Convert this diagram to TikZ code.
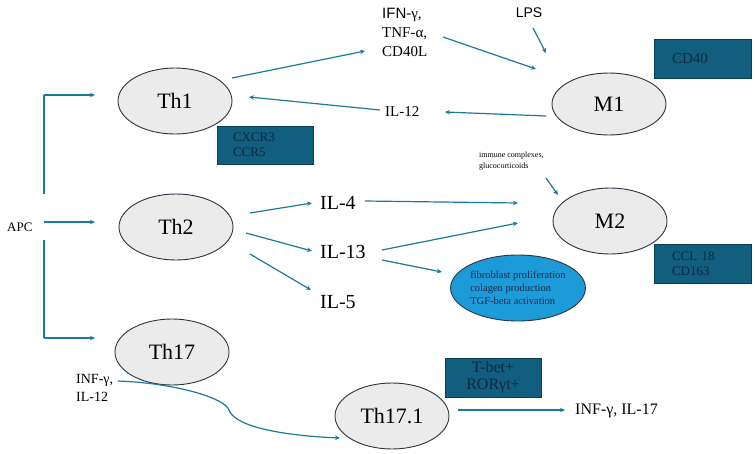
\documentclass[tikz,border=0pt]{standalone}
\usepackage{fontspec}
\setmainfont{Liberation Serif}
\newfontfamily\arialf{Liberation Sans}
\usetikzlibrary{arrows.meta,shapes.geometric}
\definecolor{arr}{HTML}{1B7A9A}
\definecolor{boxfill}{HTML}{125E7F}
\definecolor{boxline}{HTML}{0B3D55}
\definecolor{boxtext}{HTML}{0A2A40}
\definecolor{cellfill}{HTML}{EBEBEB}
\definecolor{cellline}{HTML}{2A3442}
\definecolor{fibfill}{HTML}{1C9BD8}
\definecolor{fibtext}{HTML}{1A2A50}
\tikzset{
  cell/.style={ellipse, draw=cellline, line width=0.9pt, fill=cellfill, minimum width=114pt, minimum height=66pt, inner sep=0pt, font=\fontsize{22}{24}\selectfont},
  marker/.style={draw=boxline, line width=0.9pt, fill=boxfill, text=boxtext, inner sep=0pt},
  conn/.style={draw=arr, line width=1.2pt, -{Stealth[length=5pt,width=4.5pt]}},
  plain/.style={draw=arr, line width=1.2pt},
  lbl/.style={inner sep=0pt, align=left}
}
\begin{document}
\begin{tikzpicture}[x=1pt,y=-1pt]
\useasboundingbox (0,0) rectangle (755,453);
% cells
\node[cell] (th1) at (175,101) {Th1};
\node[cell] (th2) at (176,227) {Th2};
\node[cell] (th17) at (172,352) {Th17};
\node[cell] (th171) at (392,416) {Th17.1};
\node[cell, minimum height=62pt] (m1) at (609,104) {M1};
\node[cell] (m2) at (610,221) {M2};
\node[ellipse, draw=cellline, line width=0.9pt, fill=fibfill, text=fibtext, minimum width=130pt, minimum height=66pt, inner sep=0pt, align=left, font=\fontsize{10.5}{13}\selectfont] (fib) at (518,288) {fibroblast proliferation\\colagen production\\TGF-beta activation};
% marker boxes
\node[marker, minimum width=96pt, minimum height=38pt, align=left, font=\fontsize{13}{14.5}\selectfont, text width=64pt] (cx) at (265,145) {CXCR3\\CCR5};
\node[marker, minimum width=97pt, minimum height=39pt, align=left, font=\fontsize{15}{17}\selectfont, text width=61pt] (cd40) at (702.5,58.5) {CD40};
\node[marker, minimum width=97pt, minimum height=39pt, align=left, font=\fontsize{13}{14.5}\selectfont, text width=61pt] (ccl) at (702.5,263.5) {CCL 18\\CD163};
\node[marker, minimum width=96pt, minimum height=39pt, align=center, font=\fontsize{16}{17}\selectfont] (tbet) at (493,377.5) {T-bet+\\RORγt+};
% labels
\node[lbl, anchor=west, font=\fontsize{13}{14}\selectfont] (apc) at (7,227) {APC};
\node[lbl, anchor=north west, font=\fontsize{15}{19}\selectfont] (ifn) at (382,8) {{\arialf IFN-}γ,\\TNF-α,\\CD40L};
\node[lbl, anchor=center, font=\arialf\fontsize{14}{16}\selectfont] (lps) at (529,13) {LPS};
\node[lbl, anchor=west, font=\fontsize{15}{16}\selectfont] (il12) at (385,112) {IL-12};
\node[lbl, anchor=north west, font=\fontsize{8}{10.5}\selectfont] (imm) at (479,152) {immune complexes,\\glucocorticoids};
\node[lbl, anchor=west, font=\fontsize{20}{22}\selectfont] (il4) at (320,203) {IL-4};
\node[lbl, anchor=west, font=\fontsize{20}{22}\selectfont] (il13) at (320,252) {IL-13};
\node[lbl, anchor=west, font=\fontsize{20}{22}\selectfont] (il5) at (320,302) {IL-5};
\node[lbl, anchor=north west, font=\fontsize{14}{18}\selectfont] (infl) at (76,374) {INF-γ,\\IL-12};
\node[lbl, anchor=west, font=\fontsize{16}{18}\selectfont] (infr) at (575,411) {INF-γ, IL-17};
% coordinates for connector ends
\coordinate (apcR) at (44,222);
\coordinate (vTop) at (44,194);
\coordinate (cTop) at (44,95);
\coordinate (vBot) at (44,240);
\coordinate (cBot) at (44,338);
\coordinate (th1in) at (95,95);
\coordinate (th2in) at (95,222);
\coordinate (th17in) at (95,338);
\coordinate (th1out) at (232,78);
\coordinate (ifnin) at (365,51);
\coordinate (ifnout) at (443,37);
\coordinate (m1inA) at (536,69);
\coordinate (lpsout) at (533,28);
\coordinate (m1inB) at (546,53);
\coordinate (m1out) at (546,116);
\coordinate (il12in) at (445,112);
\coordinate (il12out) at (380,110);
\coordinate (th1in2) at (249,97);
\coordinate (immout) at (546,178);
\coordinate (m2inA) at (558,195);
\coordinate (th2o1) at (250,213);
\coordinate (il4in) at (312,203);
\coordinate (th2o2) at (246,233);
\coordinate (il13in) at (312,251);
\coordinate (th2o3) at (250,254);
\coordinate (il5in) at (311,290);
\coordinate (il4out) at (365,201);
\coordinate (m2inB) at (518,203);
\coordinate (il13o1) at (382,250);
\coordinate (m2inC) at (518,223);
\coordinate (il13o2) at (382,260);
\coordinate (fibin) at (442,272);
\coordinate (curveS) at (118,381);
\coordinate (th171in) at (340,438);
\coordinate (th171out) at (458,410);
\coordinate (infrin) at (565,410);
% connectors
\draw[plain] (vTop) -- (cTop);
\draw[conn] (cTop) -- (th1in);
\draw[conn] (apcR) -- (th2in);
\draw[plain] (vBot) -- (cBot);
\draw[conn] (cBot) -- (th17in);
\draw[conn] (th1out) -- (ifnin);
\draw[conn] (ifnout) -- (m1inA);
\draw[conn] (lpsout) -- (m1inB);
\draw[conn] (m1out) -- (il12in);
\draw[conn] (il12out) -- (th1in2);
\draw[conn] (immout) -- (m2inA);
\draw[conn] (th2o1) -- (il4in);
\draw[conn] (th2o2) -- (il13in);
\draw[conn] (th2o3) -- (il5in);
\draw[conn] (il4out) -- (m2inB);
\draw[conn] (il13o1) -- (m2inC);
\draw[conn] (il13o2) -- (fibin);
\draw[conn] (curveS) .. controls (175,383) and (225,398) .. (229,410) .. controls (235,428) and (290,436) .. (th171in);
\draw[conn] (th171out) -- (infrin);
\end{tikzpicture}
\end{document}
